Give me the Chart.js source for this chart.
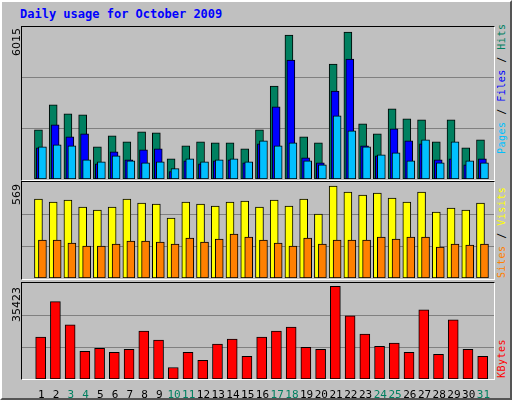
<!DOCTYPE html>
<html><head><meta charset="utf-8">
<script src="https://cdn.jsdelivr.net/npm/chart.js@4"></script>
<style>
body{margin:0;background:#c0c0c0;}
#frame{position:absolute;left:0;top:0;width:508px;height:396px;border-top:2px solid #fff;border-left:2px solid #fff;border-right:2px solid #555;border-bottom:2px solid #555;background:#c0c0c0;font-family:"DejaVu Sans Mono",monospace;}
.panel{position:absolute;left:19px;width:472px;border-top:1px solid #000;border-left:1px solid #000;border-right:1px solid #fff;border-bottom:1px solid #fff;}
canvas{position:absolute;}
.up{position:absolute;transform-origin:0 0;transform:rotate(-90deg);white-space:nowrap;font-size:10px;letter-spacing:0.5px;}
.num{font-size:11px;font-family:"DejaVu Sans",sans-serif;letter-spacing:0;}
#title{position:absolute;left:18px;top:5px;color:#0000ff;font-weight:bold;font-size:12px;}
</style></head><body>
<div id="frame">
<div id="title">Daily usage for October 2009</div>
<div class="panel" style="top:24px;height:153px"></div>
<div class="panel" style="top:179px;height:97px"></div>
<div class="panel" style="top:280px;height:96px"></div>
<canvas id="c1" width="472" height="152" style="left:20px;top:25px"></canvas>
<canvas id="c2" width="472" height="96" style="left:20px;top:180px"></canvas>
<canvas id="c3" width="472" height="116" style="left:20px;top:281px"></canvas>
<div class="up num" style="left:8px;top:54px">6015</div>
<div class="up num" style="left:8px;top:203px">569</div>
<div class="up num" style="left:8px;top:320px">35423</div>
<div class="up" style="left:494px;top:152px"><span style="color:#00c0ff">Pages</span><span> / </span><span style="color:#0000ff">Files</span><span> / </span><span style="color:#008060">Hits</span></div>
<div class="up" style="left:494px;top:276px"><span style="color:#ff8000">Sites</span><span> / </span><span style="color:#ffff00">Visits</span></div>
<div class="up" style="left:494px;top:376px"><span style="color:#ff0000">KBytes</span></div>
</div>
<script>
var days = [];
for (var d = 1; d <= 31; d++) days.push(d);
var weekends = [3,4,10,11,17,18,24,25,31];
var hits = [2014,3035,2667,2626,1320,1769,1524,1932,1892,830,1361,1524,1483,1483,1238,2014,3810,5892,1728,1483,4709,6015,2259,1851,2871,2463,2422,1524,2422,1279,1606];
var files = [1279,2218,1728,1851,626,1116,789,1198,1238,299,748,626,748,789,667,1443,2953,4872,871,667,3606,4913,1361,953,2055,1565,1443,789,830,585,830];
var pages = [1320,1402,1361,789,708,953,748,667,708,422,830,708,789,830,708,1565,1361,1483,748,585,2586,1973,1320,993,1075,748,1606,667,1524,748,667];
var visits = [489,470,482,439,421,439,489,464,458,371,470,458,445,470,476,439,482,445,489,396,569,532,513,526,495,470,532,408,433,421,464];
var sites = [235,235,216,198,198,210,229,229,223,210,247,223,241,272,254,235,216,198,247,210,235,235,235,254,241,254,254,192,210,204,210];
var kbytes = [16031,29605,20685,10601,11765,10213,11377,18358,14867,4395,10213,7110,13316,15255,8662,16031,18358,19909,12152,11377,35423,24175,17194,12540,13704,10213,26503,9437,22624,11377,8662];

function pts(vals, dx){
	return vals.map(function(v, i){ return {x: days[i] + dx, y: v}; });
}
function ds(vals, dx, color, w, order){
	return {data: pts(vals, dx), backgroundColor: color, borderColor: '#000', borderWidth: 1,
		borderSkipped: false, barThickness: w, order: order};
}
function makeChart(id, sets, ymax, showX){
	new Chart(document.getElementById(id), {
		type: 'bar',
		data: {datasets: sets},
		options: {
			responsive: false, animation: false, devicePixelRatio: 1,
			layout: {padding: 0},
			plugins: {legend: {display: false}, tooltip: {enabled: false}},
			datasets: {bar: {grouped: false}},
			scales: {
				x: {type: 'linear', min: 0.2, max: 31.2, display: showX,
					grid: {display: false}, border: {display: false},
					afterBuildTicks: function(s){ s.ticks = days.map(function(v){ return {value: v}; }); },
					afterFit: function(s){ s.height = showX ? 20 : 0; },
					ticks: {autoSkip: false, maxRotation: 0, padding: 2,
						font: {family: 'DejaVu Sans Mono', size: 11},
						color: function(c){ return weekends.indexOf(c.tick.value) >= 0 ? '#008060' : '#000'; }}},
				y: {min: 0, max: ymax, border: {display: false},
					afterBuildTicks: function(s){ s.ticks = [1,2].map(function(k){ return {value: ymax*k/3}; }); },
					afterFit: function(s){ s.width = 0; },
					grid: {color: '#808080', drawTicks: false}, ticks: {display: false}}
			}
		}
	});
}
makeChart('c1', [ds(hits, -0.2, '#008060', 8, 3), ds(files, -0.07, '#0000ff', 8, 2), ds(pages, 0.07, '#00c0ff', 8, 1)], 6015*1.035, false);
makeChart('c2', [ds(visits, -0.2, '#ffff00', 8, 2), ds(sites, 0.07, '#ff8000', 8, 1)], 569*1.045, false);
makeChart('c3', [ds(kbytes, -0.05, '#ff0000', 10, 1)], 35423*1.037, true);
</script>
</body></html>
